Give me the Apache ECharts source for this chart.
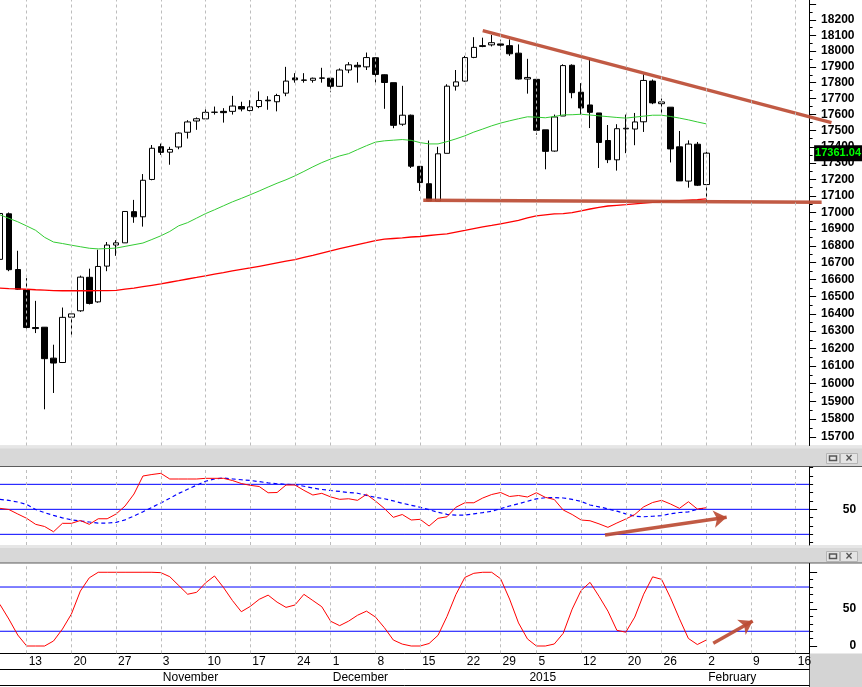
<!DOCTYPE html>
<html>
<head>
<meta charset="utf-8">
<script src="https://cdn.jsdelivr.net/npm/echarts@6/dist/echarts.min.js"></script>
<style>
  html, body { margin: 0; padding: 0; background: #fff; }
  #main { width: 862px; height: 687px; }
</style>
</head>
<body>
<div id="main"></div>
<script>
const fontFamily = 'Liberation Sans, Arial, sans-serif';
const L = Math.log;

// trading days shown on the x axis (Oct 8 2014 .. Feb 17 2015)
const dates = [
  '2014-10-08', '2014-10-09', '2014-10-10', '2014-10-13', '2014-10-14', '2014-10-15', '2014-10-16', '2014-10-17',
  '2014-10-20', '2014-10-21', '2014-10-22', '2014-10-23', '2014-10-24', '2014-10-27', '2014-10-28', '2014-10-29',
  '2014-10-30', '2014-10-31', '2014-11-03', '2014-11-04', '2014-11-05', '2014-11-06', '2014-11-07', '2014-11-10',
  '2014-11-11', '2014-11-12', '2014-11-13', '2014-11-14', '2014-11-17', '2014-11-18', '2014-11-19', '2014-11-20',
  '2014-11-21', '2014-11-24', '2014-11-25', '2014-11-26', '2014-11-28', '2014-12-01', '2014-12-02', '2014-12-03',
  '2014-12-04', '2014-12-05', '2014-12-08', '2014-12-09', '2014-12-10', '2014-12-11', '2014-12-12', '2014-12-15',
  '2014-12-16', '2014-12-17', '2014-12-18', '2014-12-19', '2014-12-22', '2014-12-23', '2014-12-24', '2014-12-26',
  '2014-12-29', '2014-12-30', '2014-12-31', '2015-01-02', '2015-01-05', '2015-01-06', '2015-01-07', '2015-01-08',
  '2015-01-09', '2015-01-12', '2015-01-13', '2015-01-14', '2015-01-15', '2015-01-16', '2015-01-20', '2015-01-21',
  '2015-01-22', '2015-01-23', '2015-01-26', '2015-01-27', '2015-01-28', '2015-01-29', '2015-01-30', '2015-02-02',
  '2015-02-03', '2015-02-04', '2015-02-05', '2015-02-06', '2015-02-09', '2015-02-10', '2015-02-11', '2015-02-12',
  '2015-02-13', '2015-02-16', '2015-02-17'
];

// daily candles, Oct 8 .. Feb 2
const open = [16720, 16992, 16660, 16541, 16321, 16323, 16145, 16120, 16381, 16418, 16614, 16470, 16680,
  16805, 16818, 17005, 16974, 17200, 17401, 17367, 17399, 17490, 17560, 17573, 17614, 17620, 17620, 17650,
  17625, 17650, 17690, 17680, 17734, 17830, 17817, 17815, 17830, 17828, 17777, 17880, 17910, 17900,
  17958, 17850, 17800, 17540, 17596, 17280, 17174, 17069, 17360, 17778, 17810, 17960, 18035, 18040,
  18046, 18035, 17987, 17823, 17821, 17505, 17374, 17591, 17910, 17740, 17660, 17610, 17439, 17320,
  17511, 17510, 17555, 17810, 17668, 17646, 17400, 17190, 17416, 17169];
const close = [16994, 16659, 16544, 16321, 16315, 16142, 16117, 16380, 16400, 16615, 16461, 16678, 16805,
  16818, 17006, 16974, 17195, 17391, 17366, 17384, 17485, 17554, 17574, 17614, 17615, 17612, 17653, 17635,
  17648, 17688, 17686, 17719, 17810, 17818, 17815, 17828, 17828, 17777, 17880, 17913, 17900, 17959,
  17852, 17801, 17533, 17596, 17281, 17181, 17069, 17357, 17778, 17805, 17959, 18024, 18030, 18054,
  18038, 17983, 17823, 17833, 17502, 17372, 17585, 17908, 17737, 17641, 17614, 17427, 17321, 17512,
  17515, 17554, 17814, 17673, 17679, 17387, 17191, 17417, 17165, 17361.04];
const low = [16690, 16650, 16540, 16314, 16289, 15855, 15947, 16117, 16270, 16412, 16455, 16465, 16650,
  16741, 16818, 16938, 16915, 17195, 17350, 17290, 17385, 17451, 17505, 17565, 17600, 17550, 17600, 17620,
  17620, 17640, 17630, 17620, 17715, 17800, 17800, 17800, 17800, 17740, 17775, 17860, 17800, 17880,
  17800, 17636, 17515, 17530, 17270, 17130, 17067, 17069, 17360, 17750, 17805, 17955, 18025, 18030,
  18010, 17970, 17820, 17731, 17475, 17262, 17370, 17591, 17702, 17600, 17516, 17270, 17300, 17254,
  17361, 17410, 17492, 17665, 17610, 17304, 17191, 17150, 17160, 17051];
const high = [17010, 17000, 16771, 16609, 16476, 16324, 16222, 16437, 16412, 16624, 16665, 16777, 16823,
  16834, 17008, 17076, 17233, 17411, 17420, 17400, 17490, 17565, 17582, 17636, 17650, 17640, 17717, 17680,
  17690, 17745, 17715, 17730, 17900, 17860, 17860, 17832, 17894, 17830, 17890, 17930, 17930, 17991,
  17962, 17852, 17800, 17780, 17600, 17282, 17439, 17400, 17790, 17880, 17970, 18089, 18086, 18103,
  18073, 18075, 18043, 17951, 17821, 17505, 17600, 17916, 17916, 17797, 17951, 17610, 17535, 17540,
  17600, 17610, 17852, 17820, 17700, 17646, 17498, 17440, 17430, 17370];

// moving averages
const maGreen = [16986, 16965, 16944, 16919, 16893, 16851, 16823, 16814, 16804, 16795, 16786, 16782, 16784,
  16787, 16797, 16807, 16817, 16838, 16860, 16886, 16920, 16939, 16966, 16993, 17016, 17040, 17064, 17085,
  17107, 17130, 17154, 17177, 17198, 17222, 17249, 17277, 17303, 17325, 17344, 17358, 17383, 17407,
  17429, 17437, 17441, 17445, 17440, 17426, 17418, 17418, 17432, 17449, 17468, 17491, 17510, 17530,
  17547, 17561, 17574, 17586, 17584, 17580, 17588, 17598, 17599, 17602, 17597, 17592, 17587, 17582,
  17578, 17584, 17590, 17596, 17596, 17588, 17578, 17567, 17554, 17542];
const maRed = [16551, 16548, 16546, 16544, 16541, 16539, 16536, 16535, 16535, 16535, 16535, 16536, 16536,
  16537, 16544, 16551, 16559, 16567, 16575, 16585, 16594, 16604, 16613, 16623, 16633, 16642, 16652, 16661,
  16669, 16679, 16689, 16699, 16709, 16719, 16732, 16744, 16757, 16770, 16783, 16796, 16808, 16819,
  16831, 16840, 16844, 16848, 16853, 16856, 16862, 16867, 16872, 16882, 16892, 16903, 16913, 16922,
  16932, 16942, 16952, 16967, 16979, 16985, 16991, 16993, 16999, 17010, 17021, 17031, 17039, 17043,
  17047, 17052, 17056, 17061, 17066, 17069, 17072, 17075, 17078, 17082];

// middle panel
const oscRed = [51.2, 49.8, 44.4, 39.2, 32, 29.4, 23.1, 33.2, 33.2, 36.6, 32, 38.7, 38.7,
  44.4, 54, 68.4, 90, 91.8, 93.2, 86.4, 86.4, 86.4, 86.4, 87.2, 87.2, 87.2, 84.6, 81,
  78.8, 77.4, 69.9, 70.2, 79.2, 79.2, 72.8, 67.2, 69.2, 64.9, 62, 62.7, 60.8, 68,
  60, 51, 40.4, 43.8, 37.2, 38, 30, 39.2, 41.1, 52.5, 57.9, 57.9, 63.6, 67.8,
  70.2, 65.4, 66.6, 64.8, 69.9, 64.4, 61.8, 49.2, 43.8, 37.2, 36.3, 32.6, 28.4, 33.6,
  38.4, 43.8, 53, 58.2, 60.8, 56.4, 51.2, 59.1, 50.4, 51.9];
const oscBlue = [62, 60.7, 58.8, 55.8, 49.8, 46, 42.8, 39.7, 37.5, 36, 34.8, 33.4, 33.5,
  34.3, 37.4, 42, 47, 52.3, 57.7, 63.2, 69.1, 74.1, 78.9, 83.7, 86.4, 87.6, 86.5, 85.5,
  84.7, 83.2, 81.8, 80.7, 80, 79.7, 77.7, 75.6, 73.8, 72.6, 71.5, 70.2, 69.3, 66.8,
  64.4, 62.7, 60.2, 57.3, 54.9, 52.5, 49.5, 46.5, 44, 43, 43, 44.6, 46, 47.7,
  50.8, 54, 56.7, 59.7, 62.6, 63.9, 64, 63.6, 61.9, 59.5, 55.2, 53, 50.6, 47.8,
  44.6, 41.8, 41.1, 41.7, 42.4, 44.7, 46.2, 47, 50, 51.2];

// bottom panel
const stoch = [56.5, 36.6, 14.9, 0, 0, 0, 6.8, 23, 43.4, 74.5, 92.5, 100, 100,
  100, 100, 100, 100, 100, 99.5, 94, 82.1, 70.2, 72.8, 85.6, 95, 79.5, 61.8, 46.5,
  53.7, 63.3, 69, 59.5, 52.4, 55.6, 70.1, 61.7, 53.3, 33.5, 27.6, 33.7, 41.7, 47.3,
  39.3, 24.9, 8.1, 2.6, 0, 0, 3.4, 14.5, 40, 69.8, 93, 98.6, 100, 100,
  91.2, 63.7, 31.3, 9.6, 0, 0, 2.7, 17.2, 50, 75.3, 86.3, 67.5, 47.3, 21.3,
  18.7, 39.2, 70.3, 93.8, 90.4, 65.3, 36.9, 10.2, 2, 8.1];

// axis ticks
const priceTicks = [15700, 15800, 15900, 16000, 16100, 16200, 16300, 16400, 16500, 16600, 16700, 16800, 16900,
  17000, 17100, 17200, 17300, 17400, 17500, 17600, 17700, 17800, 17900, 18000, 18100, 18200, 18300];
const priceLabels = [15700, 15800, 15900, 16000, 16100, 16200, 16300, 16400, 16500, 16600, 16700, 16800, 16900,
  17000, 17100, 17200, 17300, 17400, 17500, 17600, 17700, 17800, 17900, 18000, 18100, 18200];
const priceMinor = [15650, 15750, 15850, 15950, 16050, 16150, 16250, 16350, 16450, 16550, 16650, 16750, 16850,
  16950, 17050, 17150, 17250, 17350, 17450, 17550, 17650, 17750, 17850, 17950, 18050, 18150, 18250];
const oscMinor = [10, 20, 30, 40, 60, 70, 80, 90, 100];
const oscLevels = [20, 50, 80];
const stochMajor = [0, 50, 100];
const stochLabels = [0, 50];
const stochMinor = [10, 20, 30, 40, 60, 70, 80, 90];
const stochLevels = [20, 80];

// hand drawn lines, x in trading-day slots from Oct 8
const resistance = [[54.0, 18131], [93.0, 17550]];
const support = [[47.35, 17074], [91.9, 17062]];
const oscArrow = [[67.67, 19.2], [81.28, 40.4]];
const stochArrow = [[79.78, 3.7], [84.19, 33.9]];

const monthNames = ['January', 'February', 'March', 'April', 'May', 'June', 'July',
  'August', 'September', 'October', 'November', 'December'];
const dayOfWeek = s => new Date(s + 'T12:00:00Z').getUTCDay();
const weekStart = dates.map((d, i) => i > 0 && dayOfWeek(d) < dayOfWeek(dates[i - 1]));
const monthStart = dates.map((d, i) => i > 0 && d.slice(5, 7) !== dates[i - 1].slice(5, 7));

const band = 8.942;
const gridLeft = -4.6;
const gridWidth = dates.length * band;
const slotMin = -0.5, slotMax = dates.length - 0.5;
const brown = 'rgba(188, 76, 52, 0.92)';

const markBase = { symbol: 'none', silent: true, label: { show: false }, animation: false, emphasis: { disabled: true } };
const gridLines = () => Object.assign({}, markBase, {
  data: dates.filter((d, i) => weekStart[i]).map(d => ({ xAxis: d })),
  lineStyle: { color: '#bdbdbd', type: [3, 3], width: 1 }
});

const black = { color: '#000', width: 1 };
const tickLabel = { color: '#000', fontWeight: 'bold', fontSize: 12, fontFamily };

function rightAxis(gridIndex, min, max, extra) {
  return Object.assign({
    type: 'value', gridIndex, position: 'right', min, max,
    axisLine: { show: false, onZero: false },
    axisTick: { show: false },
    axisLabel: { show: false },
    splitLine: { show: false }
  }, extra);
}

// horizontal level line across a panel, on its slot axis
function levelSeries(xAxisIndex, yAxisIndex, level) {
  return {
    type: 'line', xAxisIndex, yAxisIndex, symbol: 'none', z: 1, silent: true,
    data: [[slotMin, level], [slotMax, level]],
    lineStyle: { color: '#0000ff', width: 1 }
  };
}

// straight hand-drawn line, allowed to run past the plot edge
function drawnLine(xAxisIndex, yAxisIndex, pts) {
  return {
    type: 'custom', xAxisIndex, yAxisIndex, clip: false, z: 4, silent: true,
    data: [pts[0].concat(pts[1])],
    renderItem: (params, api) => {
      const a = api.coord([api.value(0), api.value(1)]);
      const b = api.coord([api.value(2), api.value(3)]);
      return {
        type: 'line',
        shape: { x1: a[0], y1: a[1], x2: b[0], y2: b[1] },
        style: { stroke: brown, lineWidth: 3.5, lineCap: 'butt' }
      };
    }
  };
}

const pMin = L(15653), pMax = L(18329);
const candles = open.map((o, i) => [L(o), L(close[i]), L(low[i]), L(high[i])]);
const lastClose = close[close.length - 1];

const chart = echarts.init(document.getElementById('main'));
chart.setOption({
  animation: false,
  backgroundColor: '#fff',
  textStyle: { fontFamily },
  grid: [
    { left: gridLeft, top: 0, width: gridWidth, height: 445.5, outerBoundsMode: 'none' },
    { left: gridLeft, top: 467, width: gridWidth, height: 78, outerBoundsMode: 'none' },
    { left: gridLeft, top: 563.5, width: gridWidth, height: 89.8, outerBoundsMode: 'none' }
  ],
  xAxis: [
    { type: 'category', gridIndex: 0, data: dates, show: false },
    { type: 'value', gridIndex: 0, min: slotMin, max: slotMax, show: false },
    { type: 'category', gridIndex: 1, data: dates, show: false },
    { type: 'value', gridIndex: 1, min: slotMin, max: slotMax, show: false },
    {
      type: 'category', gridIndex: 2, data: dates, position: 'bottom',
      axisLine: { onZero: false, lineStyle: black },
      axisTick: { interval: i => weekStart[i] || monthStart[i], alignWithLabel: true, length: 16, lineStyle: black },
      axisLabel: {
        interval: i => weekStart[i], showMinLabel: true, showMaxLabel: true,
        formatter: v => String(+v.slice(8)), align: 'left', padding: [0, 0, 0, 2], margin: 2,
        color: '#000', fontSize: 12, fontFamily
      }
    },
    {
      type: 'category', gridIndex: 2, data: dates, position: 'bottom', offset: 16,
      axisLine: { onZero: false, lineStyle: black },
      axisTick: { interval: i => monthStart[i], alignWithLabel: true, length: 16, lineStyle: black },
      axisLabel: {
        interval: i => monthStart[i], showMinLabel: true, showMaxLabel: true,
        formatter: v => (+v.slice(5, 7) === 1 ? v.slice(0, 4) : monthNames[+v.slice(5, 7) - 1]),
        align: 'left', padding: [0, 0, 0, 2], margin: 2, color: '#000', fontSize: 12, fontFamily
      }
    },
    {
      type: 'category', gridIndex: 2, data: dates, position: 'bottom', offset: 32,
      axisLine: { onZero: false, lineStyle: black }, axisTick: { show: false }, axisLabel: { show: false }
    },
    { type: 'value', gridIndex: 2, min: slotMin, max: slotMax, show: false }
  ],
  yAxis: [
    rightAxis(0, pMin, pMax, {
      axisLine: { show: true, onZero: false, lineStyle: black },
      axisTick: { show: true, customValues: priceTicks.map(L), length: 7, lineStyle: black },
      axisLabel: Object.assign({ customValues: priceLabels.map(L), formatter: v => String(Math.round(Math.exp(v))), margin: 12 }, tickLabel)
    }),
    rightAxis(0, pMin, pMax, {
      axisTick: { show: true, customValues: priceMinor.map(L), length: 3.5, lineStyle: black }
    }),
    rightAxis(0, pMin, pMax, {
      z: 10,
      axisLabel: {
        show: true, customValues: [L(lastClose)], formatter: () => lastClose.toFixed(2),
        margin: 5, color: '#00ff00', backgroundColor: '#000', padding: [3, 1, 2, 1],
        fontWeight: 'bold', fontSize: 11, fontFamily
      }
    }),
    rightAxis(1, 7.2, 100.8, {
      axisLine: { show: true, onZero: false, lineStyle: black },
      axisTick: { show: true, customValues: [50], length: 8, lineStyle: black },
      axisLabel: Object.assign({ customValues: [50], align: 'right', margin: 47 }, tickLabel)
    }),
    rightAxis(1, 7.2, 100.8, {
      axisTick: { show: true, customValues: oscMinor, length: 4, lineStyle: black }
    }),
    rightAxis(2, -9.9, 111.9, {
      axisLine: { show: true, onZero: false, lineStyle: black },
      axisTick: { show: true, customValues: stochMajor, length: 8, lineStyle: black },
      axisLabel: Object.assign({ customValues: stochLabels, align: 'right', margin: 47 }, tickLabel)
    }),
    rightAxis(2, -9.9, 111.9, {
      axisTick: { show: true, customValues: stochMinor, length: 4, lineStyle: black }
    })
  ],
  series: [
    // price panel
    { type: 'line', xAxisIndex: 0, yAxisIndex: 0, data: [], z: 1, markLine: gridLines() },
    {
      type: 'candlestick', xAxisIndex: 0, yAxisIndex: 0, data: candles, barWidth: 6, z: 2,
      itemStyle: { color: '#fff', color0: '#000', borderColor: '#000', borderColor0: '#000', borderWidth: 1 }
    },
    { type: 'line', xAxisIndex: 0, yAxisIndex: 0, data: maGreen.map(L), symbol: 'none', z: 3,
      lineStyle: { color: '#33cc33', width: 1 } },
    { type: 'line', xAxisIndex: 0, yAxisIndex: 0, data: maRed.map(L), symbol: 'none', z: 3,
      lineStyle: { color: '#ff0000', width: 1.3 } },
    drawnLine(1, 0, resistance.map(p => [p[0], L(p[1])])),
    drawnLine(1, 0, support.map(p => [p[0], L(p[1])])),

    // middle panel
    { type: 'line', xAxisIndex: 2, yAxisIndex: 3, data: [], z: 1, markLine: gridLines() },
    ...oscLevels.map(v => levelSeries(3, 3, v)),
    { type: 'line', xAxisIndex: 2, yAxisIndex: 3, data: oscBlue, symbol: 'none', z: 2,
      lineStyle: { color: '#0000ff', width: 1.2, type: [4, 3] } },
    { type: 'line', xAxisIndex: 2, yAxisIndex: 3, data: oscRed, symbol: 'none', z: 3,
      lineStyle: { color: '#ff0000', width: 1 } },
    { type: 'line', xAxisIndex: 3, yAxisIndex: 3, data: oscArrow, symbol: 'none', z: 4,
      lineStyle: { opacity: 0 },
      markLine: Object.assign({}, markBase, { symbol: ['none', 'arrow'], symbolSize: 13,
        data: [[{ coord: oscArrow[0] }, { coord: oscArrow[1] }]], lineStyle: { color: brown, width: 3.5, type: 'solid' } }) },

    // bottom panel
    { type: 'line', xAxisIndex: 4, yAxisIndex: 5, data: [], z: 1, markLine: gridLines() },
    ...stochLevels.map(v => levelSeries(7, 5, v)),
    { type: 'line', xAxisIndex: 4, yAxisIndex: 5, data: stoch, symbol: 'none', z: 3,
      lineStyle: { color: '#ff0000', width: 1 } },
    { type: 'line', xAxisIndex: 7, yAxisIndex: 5, data: stochArrow, symbol: 'none', z: 4,
      lineStyle: { opacity: 0 },
      markLine: Object.assign({}, markBase, { symbol: ['none', 'arrow'], symbolSize: 13,
        data: [[{ coord: stochArrow[0] }, { coord: stochArrow[1] }]], lineStyle: { color: brown, width: 3.5, type: 'solid' } }) }
  ],
  graphic: [
    // panel title bars
    { type: 'rect', shape: { x: 0, y: 445.5, width: 862, height: 21 }, style: { fill: '#d8d8d8' } },
    { type: 'rect', shape: { x: 0, y: 445.5, width: 862, height: 3 }, style: { fill: '#e6e6e6' } },
    { type: 'line', shape: { x1: 0, y1: 466.5, x2: 862, y2: 466.5 }, style: { stroke: '#5c5c5c', lineWidth: 1 } },
    { type: 'rect', shape: { x: 0, y: 545, width: 862, height: 18 }, style: { fill: '#d8d8d8' } },
    { type: 'rect', shape: { x: 0, y: 545, width: 862, height: 3 }, style: { fill: '#e6e6e6' } },
    { type: 'line', shape: { x1: 0, y1: 563, x2: 862, y2: 563 }, style: { stroke: '#5c5c5c', lineWidth: 1 } },
    // window buttons
    { type: 'rect', shape: { x: 826.5, y: 453.5, width: 13, height: 10 }, style: { fill: '#e4e4e4', stroke: '#b5b5b5' } },
    { type: 'rect', shape: { x: 829.5, y: 456, width: 7, height: 4.5 }, style: { fill: 'none', stroke: '#555', lineWidth: 1.5 } },
    { type: 'rect', shape: { x: 840.5, y: 453.5, width: 17, height: 10 }, style: { fill: '#e4e4e4', stroke: '#b5b5b5' } },
    { type: 'text', x: 849, y: 458.5, style: { text: '×', fill: '#555', font: 'bold 12px ' + fontFamily, align: 'center', verticalAlign: 'middle' } },
    { type: 'rect', shape: { x: 826.5, y: 551.5, width: 13, height: 10 }, style: { fill: '#e4e4e4', stroke: '#b5b5b5' } },
    { type: 'rect', shape: { x: 829.5, y: 554, width: 7, height: 4.5 }, style: { fill: 'none', stroke: '#555', lineWidth: 1.5 } },
    { type: 'rect', shape: { x: 840.5, y: 551.5, width: 17, height: 10 }, style: { fill: '#e4e4e4', stroke: '#b5b5b5' } },
    { type: 'text', x: 849, y: 556.5, style: { text: '×', fill: '#555', font: 'bold 12px ' + fontFamily, align: 'center', verticalAlign: 'middle' } },
    // date table corner
    { type: 'rect', shape: { x: 809.5, y: 653.5, width: 53, height: 34 }, style: { fill: '#d4d4d4' } },
    { type: 'line', shape: { x1: 809.5, y1: 653, x2: 809.5, y2: 687 }, style: { stroke: '#444', lineWidth: 1 } }
  ]
});
</script>
</body>
</html>
